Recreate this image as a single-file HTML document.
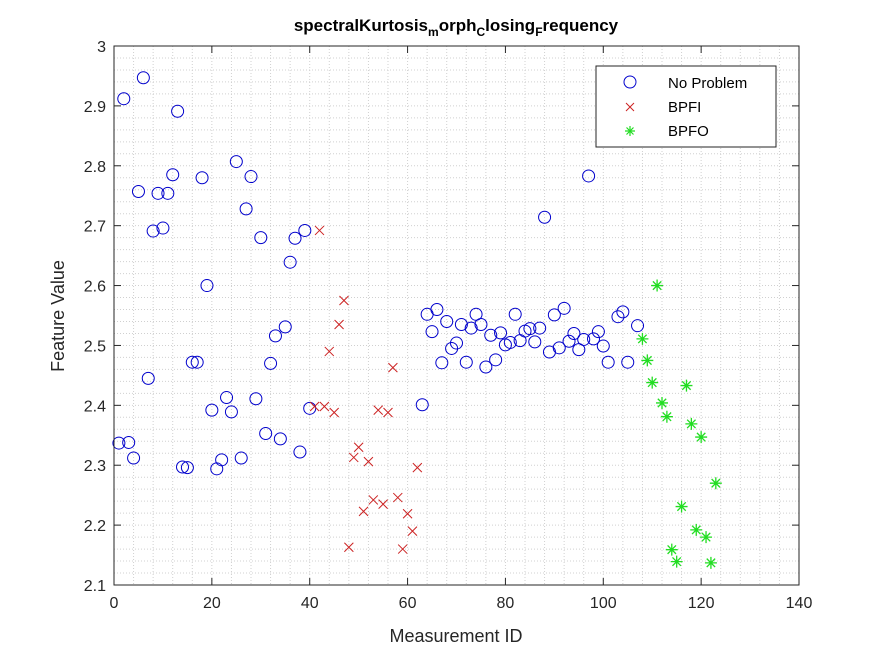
<!DOCTYPE html>
<html><head><meta charset="utf-8"><style>
html,body{margin:0;padding:0;background:#fff;}
svg{display:block;font-family:"Liberation Sans",Arial,sans-serif;}
</style></head><body>
<svg id="chart" width="875" height="656" viewBox="0 0 875 656">
<rect x="0" y="0" width="875" height="656" fill="#fff"/>
<g id="grid"></g>
<g id="marks"></g>
<rect x="114" y="46" width="685" height="539" fill="none" stroke="#262626" stroke-width="1"/>
<g id="ticks"></g>
<text x="456" y="31" text-anchor="middle" font-size="17" font-weight="bold" fill="#000">spectralKurtosis<tspan font-size="12" dy="5">m</tspan><tspan dy="-5">orph</tspan><tspan font-size="12" dy="5">C</tspan><tspan dy="-5">losing</tspan><tspan font-size="12" dy="5">F</tspan><tspan dy="-5">requency</tspan></text>
<text x="456" y="642" text-anchor="middle" font-size="18" fill="#262626">Measurement ID</text>
<text x="0" y="0" transform="translate(64,316) rotate(-90)" text-anchor="middle" font-size="18" fill="#262626">Feature Value</text>
<g>
<rect x="596" y="66" width="180" height="81" fill="#fff" stroke="#262626" stroke-width="1"/>
<g><circle cx="630" cy="82" r="6" fill="none" stroke="#0000cc" stroke-width="1"/><text x="668" y="88" font-size="15" fill="#000">No Problem</text></g>
<g><path d="M626 103 l8 8 M634 103 l-8 8" stroke="#cc2222" stroke-width="1"/><text x="668" y="112" font-size="15" fill="#000">BPFI</text></g>
<g><path d="M625 131 h10 M630 126 v10 M626.5 127.5 l7 7 M633.5 127.5 l-7 7" stroke="#22dd22" stroke-width="1.2"/><text x="668" y="136" font-size="15" fill="#000">BPFO</text></g>
</g>
</svg>
<script>
const xTicks=[0,20,40,60,80,100,120,140];
const yTicks=[2.1,2.2,2.3,2.4,2.5,2.6,2.7,2.8,2.9,3];
const npX=[1,2,3,4,5,6,7,8,9,10,11,12,13,14,15,16,17,18,19,20,21,22,23,24,25,26,27,28,29,30,31,32,33,34,35,36,37,38,39,40,63,64,65,66,67,68,69,70,71,72,73,74,75,76,77,78,79,80,81,82,83,84,85,86,87,88,89,90,91,92,93,94,95,96,97,98,99,100,101,103,104,105,107];
const npY=[2.337,2.912,2.338,2.312,2.757,2.947,2.445,2.691,2.754,2.696,2.754,2.785,2.891,2.297,2.296,2.472,2.472,2.780,2.600,2.392,2.294,2.309,2.413,2.389,2.807,2.312,2.728,2.782,2.411,2.680,2.353,2.470,2.516,2.344,2.531,2.639,2.679,2.322,2.692,2.395,2.401,2.552,2.523,2.560,2.471,2.540,2.495,2.504,2.535,2.472,2.529,2.552,2.535,2.464,2.517,2.476,2.521,2.501,2.505,2.552,2.508,2.524,2.528,2.506,2.529,2.714,2.489,2.551,2.496,2.562,2.507,2.520,2.493,2.510,2.783,2.511,2.523,2.499,2.472,2.548,2.556,2.472,2.533];
const fiX=[41,42,43,44,45,46,47,48,49,50,51,52,53,54,55,56,57,58,59,60,61,62];
const fiY=[2.398,2.692,2.398,2.490,2.388,2.535,2.575,2.163,2.313,2.330,2.223,2.306,2.242,2.392,2.235,2.388,2.463,2.246,2.160,2.219,2.190,2.296];
const foX=[108,109,110,111,112,113,114,115,116,117,118,119,120,121,122,123];
const foY=[2.511,2.475,2.438,2.600,2.404,2.381,2.159,2.139,2.231,2.433,2.369,2.192,2.347,2.180,2.137,2.270];
const L=114,R=799,T=46,B=585;
const sx=v=>L+(v-0)/140*(R-L);
const sy=v=>B-(v-2.1)/0.9*(B-T);
const NS="http://www.w3.org/2000/svg";
function mk(tag,attrs,parent){const e=document.createElementNS(NS,tag);for(const k in attrs)e.setAttribute(k,attrs[k]);parent.appendChild(e);return e;}
const grid=document.getElementById('grid'),marks=document.getElementById('marks'),ticks=document.getElementById('ticks');
for(let v=0;v<=140;v+=4){const x=sx(v);const g=mk('line',{x1:x,x2:x,y1:T,y2:B,stroke:'#d0d0d0','stroke-width':1,'stroke-dasharray':'1,2'},grid);

}
for(let i=0;i<=45;i++){const y=sy(2.1+i*0.02);const g=mk('line',{x1:L,x2:R,y1:y,y2:y,stroke:'#d0d0d0','stroke-width':1,'stroke-dasharray':'1,2'},grid);

}
xTicks.forEach(v=>{const x=sx(v);mk('line',{x1:x,x2:x,y1:B,y2:B-7,stroke:'#262626'},ticks);mk('line',{x1:x,x2:x,y1:T,y2:T+7,stroke:'#262626'},ticks);
const t=mk('text',{x:x,y:B+23,'text-anchor':'middle','font-size':16,fill:'#262626'},ticks);t.textContent=v;

});
yTicks.forEach(v=>{const y=sy(v);mk('line',{x1:L,x2:L+7,y1:y,y2:y,stroke:'#262626'},ticks);mk('line',{x1:R,x2:R-7,y1:y,y2:y,stroke:'#262626'},ticks);
const t=mk('text',{x:L-8,y:y+6,'text-anchor':'end','font-size':16,fill:'#262626'},ticks);t.textContent=(v===3?'3':v.toFixed(1));

});
npX.forEach((xv,i)=>{const c=mk('circle',{cx:sx(xv),cy:sy(npY[i]),r:6,fill:'none',stroke:'#0000cc','stroke-width':1},marks);

});
fiX.forEach((xv,i)=>{const x=sx(xv),y=sy(fiY[i]);const p=mk('path',{d:`M${x-4.5} ${y-4.5}L${x+4.5} ${y+4.5}M${x+4.5} ${y-4.5}L${x-4.5} ${y+4.5}`,stroke:'#cc2222','stroke-width':1},marks);

});
foX.forEach((xv,i)=>{const x=sx(xv),y=sy(foY[i]);const p=mk('path',{d:`M${x-6} ${y}H${x+6}M${x} ${y-6}V${y+6}M${x-4.2} ${y-4.2}L${x+4.2} ${y+4.2}M${x+4.2} ${y-4.2}L${x-4.2} ${y+4.2}`,stroke:'#22dd22','stroke-width':1.3},marks);

});
</script>
</body></html>
